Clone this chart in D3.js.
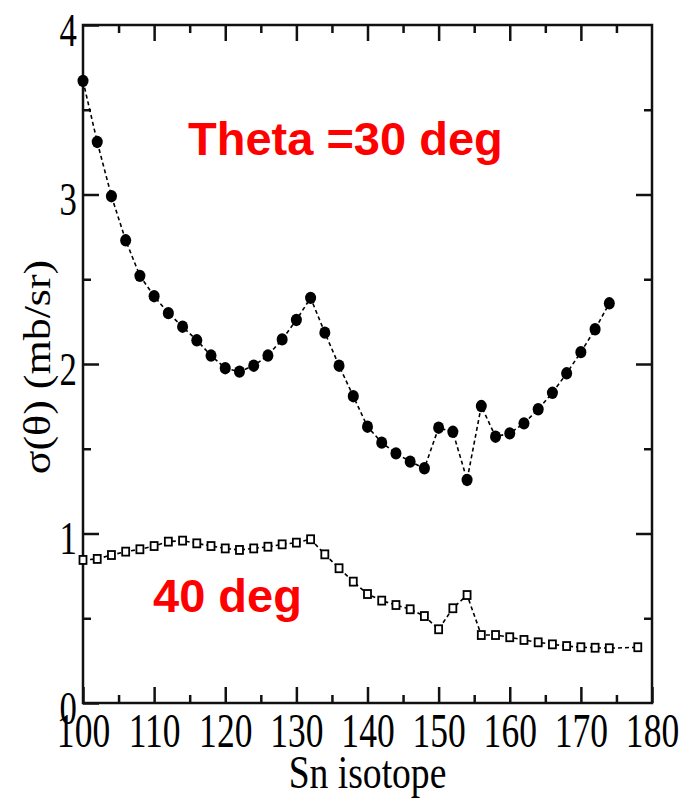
<!DOCTYPE html>
<html>
<head>
<meta charset="utf-8">
<script src="https://cdn.jsdelivr.net/npm/d3@7"></script>
<style>
  html, body { margin: 0; padding: 0; background: #fff; }
</style>
</head>
<body>
<svg id="chart" width="685" height="798"></svg>
<script>
// Sn isotope mass numbers and cross sections (mb/sr)
const isotopes30 = [100, 102, 104, 106, 108, 110, 112, 114, 116, 118, 120, 122, 124, 126, 128, 130, 132, 134, 136, 138,
  140, 142, 144, 146, 148, 150, 152, 154, 156, 158, 160, 162, 164, 166, 168, 170, 172, 174];
const sigma30 = [3.67, 3.31, 2.99, 2.73, 2.52, 2.40, 2.30, 2.22, 2.14, 2.05, 1.975, 1.955, 1.99, 2.05, 2.145, 2.26, 2.39, 2.185, 1.99, 1.81,
  1.63, 1.536, 1.473, 1.424, 1.385, 1.624, 1.60, 1.316, 1.752, 1.571, 1.591, 1.65, 1.733, 1.83, 1.945, 2.07, 2.205, 2.358];

const isotopes40 = [100, 102, 104, 106, 108, 110, 112, 114, 116, 118, 120, 122, 124, 126, 128, 130, 132, 134, 136, 138,
  140, 142, 144, 146, 148, 150, 152, 154, 156, 158, 160, 162, 164, 166, 168, 170, 172, 174, 178];
const sigma40 = [0.844, 0.850, 0.873, 0.893, 0.907, 0.926, 0.952, 0.958, 0.942, 0.926, 0.912, 0.903, 0.912, 0.922, 0.936, 0.946, 0.966, 0.877, 0.795, 0.716,
  0.643, 0.604, 0.578, 0.553, 0.513, 0.435, 0.559, 0.637, 0.401, 0.401, 0.388, 0.372, 0.358, 0.346, 0.336, 0.329, 0.326, 0.323, 0.329];

const xMajorTicks = [100, 110, 120, 130, 140, 150, 160, 170, 180];
const xMinorTicks = [105, 115, 125, 135, 145, 155, 165, 175];
const yMajorTicks = [0, 1, 2, 3, 4];
const yMinorTicks = [0.5, 1.5, 2.5, 3.5];

const xTitle = "Sn isotope";
const yTitle = "σ(θ) (mb/sr)";
const label30 = "Theta =30 deg";
const label40 = "40 deg";

const chart = {};
chart.margin = {top: 25, right: 33, bottom: 95, left: 83};
chart.width = 685;
chart.height = 798;
chart.squash = 0.74; // the original picture is narrower than it is tall

chart.draw = () => {
  const svg = d3.select("#chart");
  const m = chart.margin;
  const iw = chart.width - m.left - m.right;
  const ih = chart.height - m.top - m.bottom;

  const x = d3.scaleLinear().domain([100, 180]).range([0, iw]);
  const y = d3.scaleLinear().domain([0, 4]).range([ih, 0]);

  const g = svg.append("g").attr("transform", `translate(${m.left},${m.top})`);

  // frame ticks, all pointing inwards
  const addAxis = (axis, tx, ty) => {
    const a = g.append("g").attr("transform", `translate(${tx},${ty})`).call(axis);
    a.select(".domain").remove();
    a.selectAll("line").attr("stroke", "#111").attr("stroke-width", 2.5);
    return a;
  };
  const bottom = addAxis(d3.axisBottom(x).tickValues(xMajorTicks).tickSize(-16).tickSizeOuter(0), 0, ih);
  addAxis(d3.axisBottom(x).tickValues(xMinorTicks).tickSize(-8).tickFormat(""), 0, ih);
  addAxis(d3.axisTop(x).tickValues(xMajorTicks.slice(1, -1)).tickSize(-16).tickFormat(""), 0, 0);
  addAxis(d3.axisTop(x).tickValues(xMinorTicks).tickSize(-8).tickFormat(""), 0, 0);
  const left = addAxis(d3.axisLeft(y).tickValues(yMajorTicks).tickSize(-16).tickFormat(d3.format("d")), 0, 0);
  addAxis(d3.axisLeft(y).tickValues(yMinorTicks).tickSize(-8).tickFormat(""), 0, 0);
  addAxis(d3.axisRight(y).tickValues(yMajorTicks.slice(1, -1)).tickSize(-16).tickFormat(""), iw, 0);
  addAxis(d3.axisRight(y).tickValues(yMinorTicks).tickSize(-8).tickFormat(""), iw, 0);

  bottom.selectAll("text")
    .attr("y", 0).attr("dy", null)
    .attr("transform", `translate(0,44) scale(${chart.squash},1)`)
    .style("font-family", "'Liberation Serif', serif")
    .style("font-size", "48px")
    .attr("fill", "#000");

  left.selectAll("text")
    .attr("x", 0).attr("dy", null).attr("y", 0)
    .attr("transform", `translate(-6,20) scale(${chart.squash},1)`)
    .style("font-family", "'Liberation Serif', serif")
    .style("font-size", "47px")
    .attr("fill", "#000");

  // frame
  g.append("rect")
    .attr("width", iw).attr("height", ih)
    .attr("fill", "none")
    .attr("stroke", "#111")
    .attr("stroke-width", 2.5);

  // axis titles
  svg.append("text")
    .attr("transform", `translate(${m.left + iw / 2},788) scale(0.8,1)`)
    .attr("text-anchor", "middle")
    .style("font-family", "'Liberation Serif', serif")
    .style("font-size", "47px")
    .text(xTitle);

  svg.append("text")
    .attr("transform", `translate(50,${m.top + ih / 2 + 3}) scale(0.86,1) rotate(-90)`)
    .attr("text-anchor", "middle")
    .style("font-family", "'Liberation Serif', serif")
    .style("font-size", "44px")
    .text(yTitle);

  const line = d3.line().x(d => x(d[0])).y(d => y(d[1]));
  const pts30 = isotopes30.map((v, i) => [v, sigma30[i]]);
  const pts40 = isotopes40.map((v, i) => [v, sigma40[i]]);

  g.append("path")
    .attr("d", line(pts30))
    .attr("fill", "none")
    .attr("stroke", "#000")
    .attr("stroke-width", 1.6)
    .attr("stroke-dasharray", "4,3");

  g.append("path")
    .attr("d", line(pts40))
    .attr("fill", "none")
    .attr("stroke", "#000")
    .attr("stroke-width", 1.6)
    .attr("stroke-dasharray", "4,3");

  g.selectAll(".dot30")
    .data(pts30).enter()
    .append("ellipse")
    .attr("class", "dot30")
    .attr("cx", d => x(d[0]))
    .attr("cy", d => y(d[1]))
    .attr("rx", 5.5)
    .attr("ry", 6.2)
    .attr("fill", "#000");

  g.selectAll(".sq40")
    .data(pts40).enter()
    .append("rect")
    .attr("class", "sq40")
    .attr("x", d => x(d[0]) - 3.5)
    .attr("y", d => y(d[1]) - 4)
    .attr("width", 7)
    .attr("height", 8)
    .attr("fill", "#fff")
    .attr("stroke", "#000")
    .attr("stroke-width", 1.8);

  // red annotations
  svg.append("text")
    .attr("x", 188).attr("y", 155)
    .style("font-family", "'Liberation Sans', Arial, sans-serif")
    .style("font-weight", "bold")
    .style("font-size", "47px")
    .attr("fill", "#ff0000")
    .text(label30);

  svg.append("text")
    .attr("x", 153).attr("y", 612)
    .style("font-family", "'Liberation Sans', Arial, sans-serif")
    .style("font-weight", "bold")
    .style("font-size", "47px")
    .attr("fill", "#ff0000")
    .text(label40);
};

chart.draw();
</script>
</body>
</html>
